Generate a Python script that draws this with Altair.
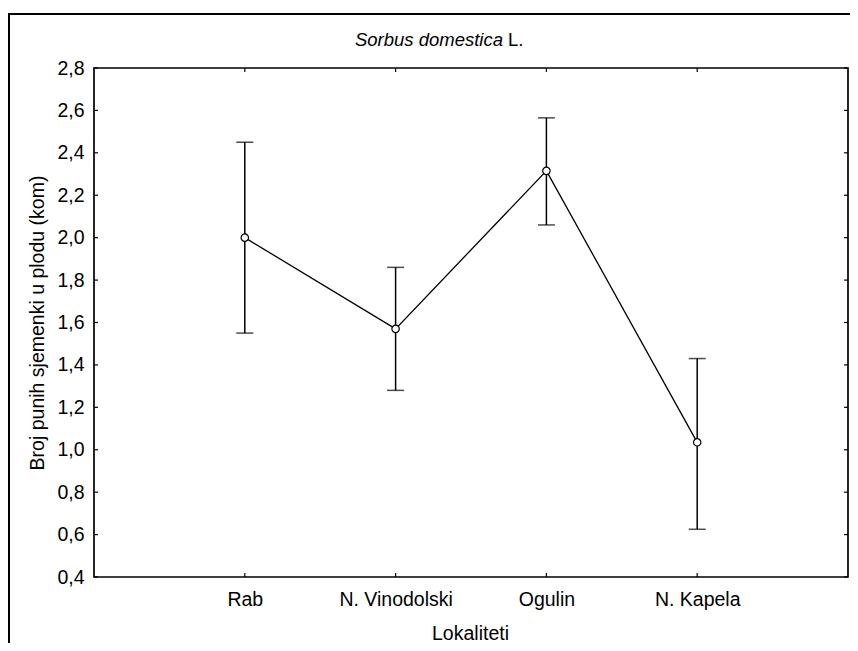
import altair as alt
import pandas as pd

categories = ["Rab", "N. Vinodolski", "Ogulin", "N. Kapela"]
means = [2.0, 1.57, 2.315, 1.035]
lower = [1.55, 1.28, 2.06, 0.625]
upper = [2.45, 1.86, 2.565, 1.43]
y_ticks = [0.4, 0.6, 0.8, 1.0, 1.2, 1.4, 1.6, 1.8, 2.0, 2.2, 2.4, 2.6, 2.8]

W, H = 754, 509
FONT = "Liberation Sans"
FS = 19.5

df = pd.DataFrame({"cat": categories, "mean": means, "lo": lower, "hi": upper})
ticks_df = pd.DataFrame({"v": y_ticks})
one = pd.DataFrame({"a": [0]})

xenc = alt.X("cat:N", sort=categories, scale=alt.Scale(type="point", padding=1),
             axis=alt.Axis(title="Lokaliteti", labelAngle=0, labelAlign="center",
                           ticks=False, domain=False,
                           labelFont=FONT, labelFontSize=FS, labelColor="black",
                           labelPadding=13, labelBaseline="top",
                           titleFont=FONT, titleFontSize=FS,
                           titleFontWeight="normal", titleColor="black",
                           titleX=W / 2 - 1, titleY=56, titleBaseline="middle"))
yscale = alt.Scale(domain=[0.4, 2.8], nice=False, zero=False)
yenc = alt.Y("mean:Q", scale=yscale,
             axis=alt.Axis(title="Broj punih sjemenki u plodu (kom)", values=y_ticks,
                           labelExpr="replace(format(datum.value, '.1f'), '.', ',')",
                           ticks=False, domain=False, grid=False,
                           labelFont=FONT, labelFontSize=FS, labelColor="black",
                           labelPadding=10, titleFont=FONT, titleFontSize=FS,
                           titleFontWeight="normal", titleColor="black",
                           titleAngle=270, titleX=-57, titleY=H / 2,
                           titleBaseline="middle", titleAlign="center"))

base = alt.Chart(df)

err = base.mark_rule(color="black", strokeWidth=1.5).encode(
    x=xenc, y=alt.Y("lo:Q", scale=yscale), y2="hi:Q")
cap_hi = base.mark_tick(color="black", orient="horizontal", size=17, thickness=1.5).encode(
    x=alt.X("cat:N", sort=categories), y=alt.Y("hi:Q", scale=yscale))
cap_lo = base.mark_tick(color="black", orient="horizontal", size=17, thickness=1.5).encode(
    x=alt.X("cat:N", sort=categories), y=alt.Y("lo:Q", scale=yscale))
line = base.mark_line(color="black", strokeWidth=1.3).encode(
    x=alt.X("cat:N", sort=categories), y=yenc)
pts = base.mark_point(shape="circle", filled=True, fill="white", stroke="black",
                      strokeWidth=1.2, size=55, opacity=1).encode(
    x=alt.X("cat:N", sort=categories), y=alt.Y("mean:Q", scale=yscale))

xt_bot = base.mark_rule(color="black", strokeWidth=1.2).encode(
    x=alt.X("cat:N", sort=categories), y=alt.value(H), y2=alt.value(H - 4))
xt_top = base.mark_rule(color="black", strokeWidth=1.2).encode(
    x=alt.X("cat:N", sort=categories), y=alt.value(0), y2=alt.value(4))
yt_left = alt.Chart(ticks_df).mark_rule(color="black", strokeWidth=1.2).encode(
    y=alt.Y("v:Q", scale=yscale), x=alt.value(0), x2=alt.value(4))
yt_right = alt.Chart(ticks_df).mark_rule(color="black", strokeWidth=1.2).encode(
    y=alt.Y("v:Q", scale=yscale), x=alt.value(W), x2=alt.value(W - 4))

frame = alt.Chart(one).mark_rect(fillOpacity=0, stroke="black", strokeWidth=2, clip=False).encode(
    x=alt.value(-85), x2=alt.value(W + 200), y=alt.value(-54), y2=alt.value(H + 200))

t1 = alt.Chart(one).mark_text(text="Sorbus domestica", font=FONT, fontSize=18.5,
                              fontStyle="italic", align="right", baseline="alphabetic",
                              color="black").encode(x=alt.value(409), y=alt.value(-22))
t2 = alt.Chart(one).mark_text(text="L.", font=FONT, fontSize=18.5, align="left",
                              baseline="alphabetic", color="black").encode(
    x=alt.value(414), y=alt.value(-22))

chart = alt.layer(frame, line, err, cap_hi, cap_lo, pts, xt_bot, xt_top, yt_left, yt_right, t1, t2).properties(
    width=W, height=H,
    padding={"left": 86, "top": 60, "right": 2, "bottom": 66},
    autosize=alt.AutoSizeParams(type="none"),
    background="white",
).configure_view(stroke="black", strokeWidth=1.7)

chart.save("out.html", embed_options={"renderer": "svg", "actions": False})
